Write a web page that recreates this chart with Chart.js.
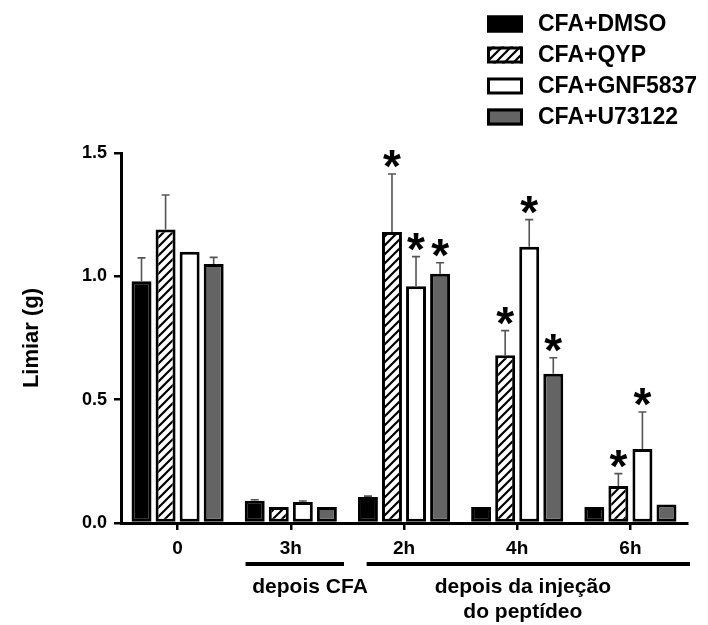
<!DOCTYPE html>
<html>
<head>
<meta charset="utf-8">
<script src="https://cdn.jsdelivr.net/npm/chart.js@4.4.0/dist/chart.umd.min.js"></script>
<style>
  html, body { margin: 0; padding: 0; background: #fff; }
  #wrap { width: 708px; height: 625px; }
</style>
</head>
<body>
<div id="wrap"><canvas id="c" width="708" height="625"></canvas></div>
<script>
// Time points and groups
const timePoints = ['0', '3h', '2h', '4h', '6h'];
const seriesNames = ['CFA+DMSO', 'CFA+QYP', 'CFA+GNF5837', 'CFA+U73122'];

// Mean withdrawal threshold (g) and SEM for each group
const dmsoMean = [0.98, 0.09, 0.105, 0.065, 0.065];
const dmsoSem  = [0.095, 0.004, 0.004, 0, 0];
const qypMean  = [1.19, 0.065, 1.18, 0.68, 0.15];
const qypSem   = [0.14, 0, 0.235, 0.10, 0.05];
const gnfMean  = [1.10, 0.085, 0.96, 1.12, 0.30];
const gnfSem   = [0, 0.004, 0.12, 0.11, 0.15];
const u73Mean  = [1.05, 0.065, 1.01, 0.605, 0.075];
const u73Sem   = [0.027, 0, 0.045, 0.065, 0];

// Significance marks (*) per group and time point
const dmsoSig = [false, false, false, false, false];
const qypSig  = [false, false, true, true, true];
const gnfSig  = [false, false, true, true, true];
const u73Sig  = [false, false, true, true, false];

// Axis
const yMin = 0, yMax = 1.5, yStep = 0.5;
const yTitle = 'Limiar (g)';
const periodLabels = ['depois CFA', ['depois da injeção', 'do peptídeo']];

const FONT = '"Liberation Sans", Arial, Helvetica, sans-serif';

function hatchPattern() {
  const s = 9;
  const t = document.createElement('canvas');
  t.width = s; t.height = s;
  const g = t.getContext('2d');
  g.fillStyle = '#fff';
  g.fillRect(0, 0, s, s);
  g.strokeStyle = '#000';
  g.lineWidth = 2.2;
  g.beginPath();
  g.moveTo(-1, s + 1); g.lineTo(s + 1, -1);
  g.moveTo(-1, 1); g.lineTo(1, -1);
  g.moveTo(s - 1, s + 1); g.lineTo(s + 1, s - 1);
  g.stroke();
  return document.getElementById('c').getContext('2d').createPattern(t, 'repeat');
}

const fills = ['#000000', hatchPattern(), '#ffffff', '#646464'];
const means = [dmsoMean, qypMean, gnfMean, u73Mean];
const sems = [dmsoSem, qypSem, gnfSem, u73Sem];
const sigs = [dmsoSig, qypSig, gnfSig, u73Sig];

const datasets = seriesNames.map((name, i) => ({
  label: name,
  data: means[i],
  sem: sems[i],
  sig: sigs[i],
  backgroundColor: fills[i],
  borderColor: '#000',
  borderWidth: 3,
  borderSkipped: false,
  categoryPercentage: 0.85,
  barPercentage: 0.83
}));

// Error bars (upper SEM) and significance asterisks
const errorBars = {
  id: 'errorBars',
  afterDatasetsDraw(chart) {
    const ctx = chart.ctx;
    const y = chart.scales.y;
    ctx.save();
    chart.data.datasets.forEach((ds, i) => {
      const meta = chart.getDatasetMeta(i);
      meta.data.forEach((bar, j) => {
        const v = ds.data[j];
        const e = ds.sem[j] || 0;
        const top = y.getPixelForValue(v + e);
        if (e > 0) {
          ctx.strokeStyle = '#555';
          ctx.lineWidth = 1.6;
          ctx.beginPath();
          ctx.moveTo(bar.x, bar.y);
          ctx.lineTo(bar.x, top);
          ctx.moveTo(bar.x - 4, top);
          ctx.lineTo(bar.x + 4, top);
          ctx.stroke();
        }
        if (ds.sig[j]) {
          ctx.fillStyle = '#000';
          ctx.font = 'bold 46px ' + FONT;
          ctx.textAlign = 'center';
          ctx.textBaseline = 'alphabetic';
          const m = ctx.measureText('*');
          // lower edge of the glyph sits a few pixels above the cap
          const bottom = top - 6;
          ctx.fillText('*', bar.x, bottom - m.actualBoundingBoxDescent);
        }
      });
    });
    ctx.restore();
  }
};

// Legend, period brackets and their captions
const annotations = {
  id: 'annotations',
  afterDraw(chart) {
    const ctx = chart.ctx;
    const x = chart.scales.x;
    const area = chart.chartArea;
    const cw = x.width / timePoints.length;
    ctx.save();

    // legend
    const rows = [24, 55, 86, 117];
    chart.data.datasets.forEach((ds, i) => {
      const cy = rows[i];
      ctx.fillStyle = ds.backgroundColor;
      ctx.fillRect(487, cy - 8.5, 36, 17);
      ctx.strokeStyle = '#000';
      ctx.lineWidth = 3;
      ctx.strokeRect(488.5, cy - 7, 33, 14);
      ctx.fillStyle = '#000';
      ctx.font = 'bold 23px ' + FONT;
      ctx.textAlign = 'left';
      ctx.textBaseline = 'middle';
      ctx.fillText(ds.label, 538, cy + 1);
    });

    // period brackets
    const c1 = x.getPixelForValue(1);
    const c2 = x.getPixelForValue(2);
    const c3 = x.getPixelForValue(3);
    ctx.strokeStyle = '#000';
    ctx.lineWidth = 4;
    ctx.beginPath();
    ctx.moveTo(c1 - 0.40 * cw, 564);
    ctx.lineTo(c1 + 0.47 * cw, 564);
    ctx.moveTo(c2 - 0.33 * cw, 564);
    ctx.lineTo(area.right + 3, 564);
    ctx.stroke();

    ctx.fillStyle = '#000';
    ctx.font = 'bold 21px ' + FONT;
    ctx.textAlign = 'center';
    ctx.textBaseline = 'middle';
    ctx.fillText(periodLabels[0], c1 + 0.17 * cw, 587);
    ctx.fillText(periodLabels[1][0], c3 + 0.05 * cw, 587);
    ctx.fillText(periodLabels[1][1], c3 + 0.05 * cw, 612);
    ctx.restore();
  }
};

new Chart(document.getElementById('c'), {
  type: 'bar',
  data: { labels: timePoints, datasets },
  options: {
    responsive: false,
    animation: false,
    layout: { padding: { top: 153, right: 21, bottom: 0, left: 0 } },
    plugins: { legend: { display: false }, tooltip: { enabled: false } },
    scales: {
      x: {
        afterFit(s) { s.height = 102; },
        grid: { display: true, drawOnChartArea: false, offset: false, drawTicks: true, tickLength: 7, lineWidth: 2.5, color: '#000' },
        border: { display: true, width: 3, color: '#000' },
        ticks: { color: '#000', padding: 7, maxRotation: 0, font: { family: FONT, size: 19, weight: 'bold' } }
      },
      y: {
        min: yMin, max: yMax,
        afterFit(s) { s.width = 121; },
        grid: { display: true, drawOnChartArea: false, drawTicks: true, tickLength: 7, lineWidth: 2.5, color: '#000' },
        border: { display: true, width: 3, color: '#000' },
        ticks: { stepSize: yStep, color: '#000', padding: 7, font: { family: FONT, size: 18, weight: 'bold' }, callback: v => Number(v).toFixed(1) },
        title: { display: true, text: yTitle, color: '#000', padding: { top: 19, bottom: 0 }, font: { family: FONT, size: 22, weight: 'bold' } }
      }
    }
  },
  plugins: [errorBars, annotations]
});
</script>
</body>
</html>
